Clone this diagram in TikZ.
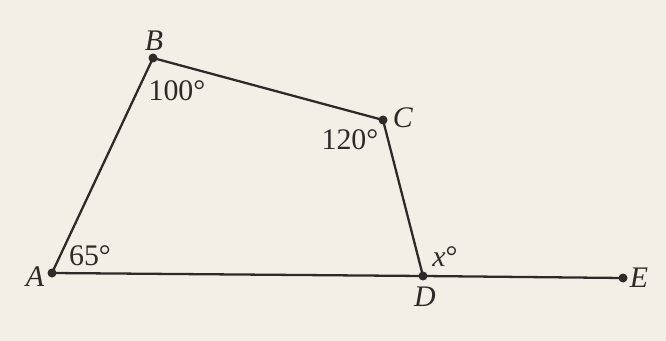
\documentclass[tikz,border=0pt]{standalone}
\usepackage{fontspec}
\setmainfont{Liberation Serif}
\usepackage{xcolor, tikz}
\usetikzlibrary{calc,positioning}
\definecolor{paper}{HTML}{F3EFE6}
\definecolor{ink}{HTML}{2E2A28}
\tikzstyle{dot} = [circle, fill=ink, inner sep=0pt, minimum size=0.18cm]
\tikzstyle{edge} = [draw=ink, line width=1.3pt]
\tikzstyle{lbl} = [inner sep=0pt, text=ink, font=\fontsize{17}{20}\selectfont]

\begin{document}
\begin{tikzpicture}[x=0.02cm, y=-0.02cm]
    \fill[paper] (0,0) rectangle (666,341);
    \useasboundingbox (0,0) rectangle (666,341);
    \node (a)[dot] at (52,273){};
    \node (b)[dot] at (153,58){};
    \node (c)[dot] at (383,120){};
    \node (d)[dot] at (423,276){};
    \node (e)[dot] at (623,278){};
    \draw[edge] (a.center)--(b.center)--(c.center)--(d.center);
    \draw[edge] (a.center)--(d.center)--(e.center);
    \node (la)[lbl] at (35,277){\textit{A}};
    \node (lb)[lbl] at (154,41){\textit{B}};
    \node (lc)[lbl] at (403,118){\textit{C}};
    \node (ld)[lbl] at (425,297){\textit{D}};
    \node (le)[lbl] at (639,278){\textit{E}};
    \node (ga)[lbl] at (90,256){65°};
    \node (gb)[lbl] at (177,91){100°};
    \node (gc)[lbl] at (350,140){120°};
    \node (gd)[lbl] at (445,257){\textit{x}°};
\end{tikzpicture}
\end{document}
